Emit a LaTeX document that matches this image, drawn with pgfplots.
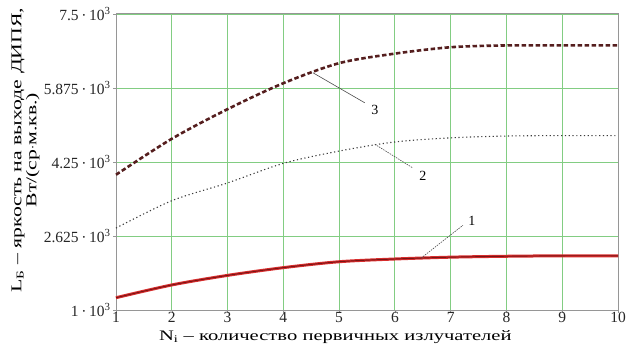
\documentclass[border=0pt]{standalone}
\usepackage{fontspec}
\setmainfont{Liberation Serif}
\usepackage{pgfplots}
\pgfplotsset{compat=1.18}

\definecolor{gridgreen}{RGB}{130,205,130}
\definecolor{framegray}{RGB}{150,150,150}
\definecolor{lineone}{RGB}{215,45,45}
\definecolor{lineonecore}{RGB}{120,20,20}
\definecolor{linethree}{RGB}{85,30,30}
\definecolor{linetwo}{RGB}{60,60,60}

\begin{document}
\begin{tikzpicture}
\begin{axis}[
  name=ax,
  scale only axis,
  width=502pt, height=296pt,
  xmin=1, xmax=10, ymin=1, ymax=7.5,
  xtick={1,...,10},
  ytick={1,2.625,4.25,5.875,7.5},
  yticklabels={1\,·\,10\textsuperscript{3},
               2.625\,·\,10\textsuperscript{3},
               4.25\,·\,10\textsuperscript{3},
               5.875\,·\,10\textsuperscript{3},
               7.5\,·\,10\textsuperscript{3}},
  /pgf/number format/assume math mode=true,
  every tick label/.append style={font=\fontsize{15.5}{17}\selectfont, text=black!85},
  yticklabel style={xshift=1pt},
  xticklabel style={yshift=2pt, inner sep=1pt},
  tick align=outside, tick pos=left,
  major tick length=3pt,
  every tick/.style={framegray},
  grid=major,
  major grid style={gridgreen, line width=0.8pt},
  axis line style={framegray, line width=1pt},
  xlabel={N\textsubscript{i} -- количество первичных излучателей},
  ylabel={L\textsubscript{Б} -- яркость на выходе ДИПЯ,\\ Вт/(ср$\cdot$м.кв.)},
  xlabel style={font=\fontsize{14.5}{16}\selectfont\addfontfeature{FakeStretch=1.42},
    inner sep=1pt, at={(axis description cs:0.437,-0.090)}, anchor=center},
  ylabel style={font=\fontsize{15}{15}\selectfont\addfontfeature{FakeStretch=1.45},
    align=center, at={(axis description cs:-0.180,0.54)}, anchor=center},
  clip=false,
]
% curve 1
\addplot[lineone, line width=3pt, smooth] coordinates {
  (1,1.27) (2,1.55) (3,1.76) (4,1.93) (5,2.06) (6,2.12) (7,2.16) (8,2.18) (9,2.19) (10,2.19)};
\addplot[lineonecore, line width=0.9pt, smooth] coordinates {
  (1,1.27) (2,1.55) (3,1.76) (4,1.93) (5,2.06) (6,2.12) (7,2.16) (8,2.18) (9,2.19) (10,2.19)};
% curve 2
\addplot[linetwo, line width=1.1pt, dash pattern=on 1.2pt off 2.6pt, smooth] coordinates {
  (1,2.80) (2,3.40) (3,3.79) (4,4.22) (5,4.49) (6,4.69) (7,4.78) (8,4.82) (9,4.83) (10,4.83)};
% curve 3
\addplot[linethree, line width=2.6pt, dash pattern=on 4.5pt off 2.5pt, smooth] coordinates {
  (1,3.97) (2,4.76) (3,5.41) (4,5.98) (5,6.42) (6,6.63) (7,6.77) (8,6.81) (9,6.81) (10,6.81)};
% leader lines and curve numbers
\draw[black!70, line width=0.6pt] (axis cs:4.53,6.21) -- (axis cs:5.46,5.55);
\node[font=\fontsize{14}{16}\selectfont] at (axis cs:5.64,5.40) {3};
\draw[black!70, line width=0.6pt, dash pattern=on 1.5pt off 1pt] (axis cs:5.64,4.64) -- (axis cs:6.32,4.12);
\node[font=\fontsize{14}{16}\selectfont] at (axis cs:6.50,3.95) {2};
\draw[black!70, line width=0.6pt, dash pattern=on 1.5pt off 1pt] (axis cs:6.47,2.14) -- (axis cs:7.22,2.86);
\node[font=\fontsize{14}{16}\selectfont] at (axis cs:7.38,2.95) {1};
\end{axis}
\pgfresetboundingbox
\path ([shift={(-116pt,-37pt)}]ax.south west) rectangle ([shift={(8pt,14pt)}]ax.north east);
\end{tikzpicture}
\end{document}
